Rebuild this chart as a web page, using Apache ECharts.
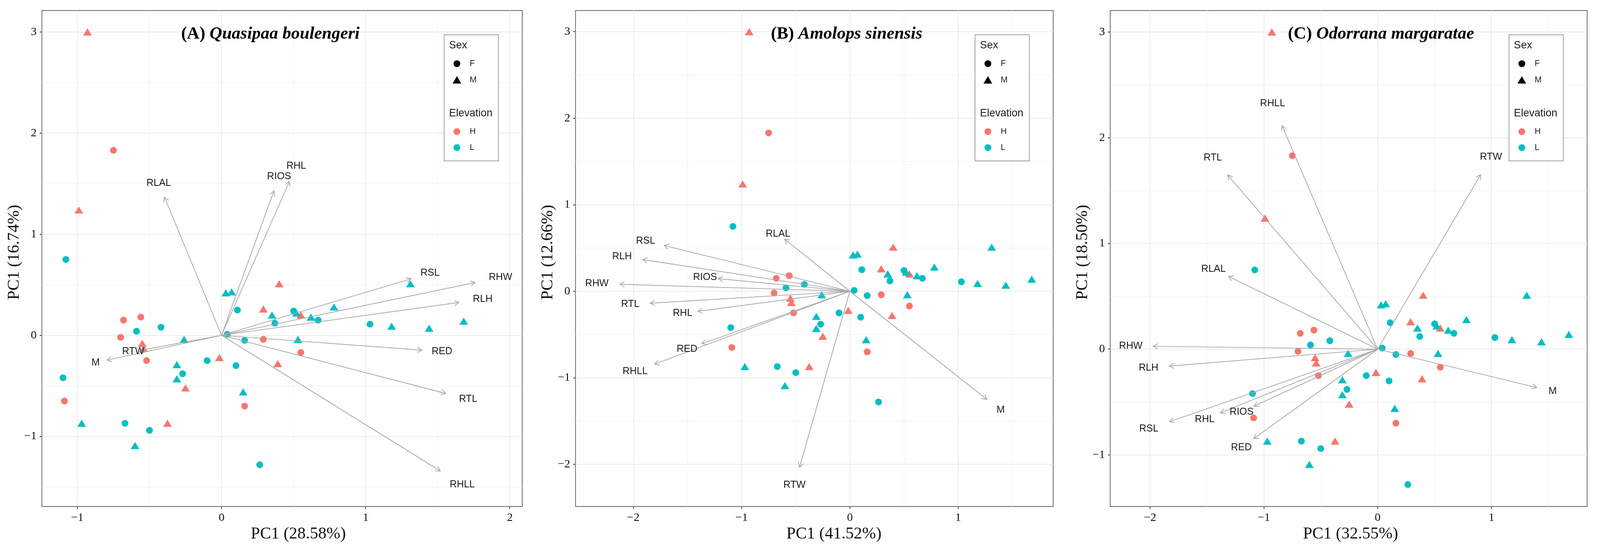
<!DOCTYPE html>
<html lang="en">
<head>
  <meta charset="UTF-8">
  <title>PCA biplots</title>
  <script src="https://cdn.jsdelivr.net/npm/echarts@6/dist/echarts.min.js"></script>
  <style>
    html, body { margin: 0; padding: 0; background: #fff; overflow: hidden; }
    #chart { width: 100vw; height: 100vh; }
  </style>
</head>
<body>
  <div id="chart"></div>
  <script>
    // PC scores, split by elevation (H/L) and sex (F/M)
    const scoresHF = [[-0.75, 1.83], [-0.56, 0.18], [-0.68, 0.15], [-0.70, -0.02], [0.29, -0.04],
      [-0.52, -0.25], [-1.09, -0.65], [0.16, -0.70], [0.55, -0.17]];
    const scoresHM = [[-0.93, 3.0], [-0.99, 1.24], [0.29, 0.26], [0.40, 0.51], [-0.55, -0.08],
      [-0.54, -0.13], [-0.015, -0.22], [0.39, -0.28], [-0.25, -0.52], [-0.375, -0.87], [0.55, 0.20]];
    const scoresLF = [[-1.08, 0.75], [0.11, 0.25], [0.37, 0.12], [-0.59, 0.04], [-0.42, 0.08],
      [0.04, 0.01], [0.16, -0.05], [-0.10, -0.25], [0.10, -0.30], [-0.27, -0.38], [-1.10, -0.42],
      [-0.67, -0.87], [-0.50, -0.94], [0.50, 0.24], [0.67, 0.15], [1.03, 0.11], [0.265, -1.28]];
    const scoresLM = [[0.03, 0.42], [0.07, 0.43], [0.35, 0.20], [-0.26, -0.04], [-0.31, -0.29],
      [-0.31, -0.43], [0.15, -0.56], [-0.97, -0.87], [-0.60, -1.09], [0.52, 0.22], [0.62, 0.18],
      [0.78, 0.28], [1.31, 0.51], [1.18, 0.09], [1.44, 0.07], [1.68, 0.14], [0.53, -0.04]];

    // variable loadings (arrow tips), same variable order in every panel
    const varNames = ['RLAL', 'RIOS', 'RHL', 'RSL', 'RHW', 'RLH', 'RED', 'RTL', 'RHLL', 'RTW', 'M'];
    const loadingsA = [[-0.396, 1.367], [0.363, 1.428], [0.471, 1.522], [1.315, 0.559], [1.759, 0.522],
      [1.647, 0.325], [1.39, -0.147], [1.555, -0.575], [1.518, -1.342], [-0.557, -0.147], [-0.794, -0.246]];
    const loadingsB = [[-0.603, 0.602], [-1.216, 0.146], [-1.404, -0.232], [-1.715, 0.529], [-2.124, 0.081],
      [-1.913, 0.366], [-1.367, -0.606], [-1.844, -0.138], [-1.803, -0.842], [-0.465, -2.034], [1.266, -1.249]];
    const loadingsC = [[-1.311, 0.689], [-1.087, -0.539], [-1.382, -0.603], [-1.828, -0.686], [-1.972, 0.027],
      [-1.83, -0.16], [-1.089, -0.847], [-1.317, 1.647], [-0.839, 2.113], [0.905, 1.651], [1.398, -0.363]];

    const panelTags = ['(A) ', '(B) ', '(C) '];
    const speciesNames = ['Quasipaa boulengeri', 'Amolops sinensis', 'Odorrana margaratae'];
    const xAxisNames = ['PC1 (28.58%)', 'PC1 (41.52%)', 'PC1 (32.55%)'];
    const yAxisNames = ['PC1 (16.74%)', 'PC1 (12.66%)', 'PC1 (18.50%)'];
    const xRanges = [[-1.246, 2.086], [-2.534, 1.878], [-2.35, 1.841]];
    const yRanges = [[-1.693, 3.212], [-2.487, 3.244], [-1.488, 3.203]];
    const xTicks = [[-1, 0, 1, 2], [-2, -1, 0, 1], [-2, -1, 0, 1]];
    const yTicks = [[-1, 0, 1, 2, 3], [-2, -1, 0, 1, 2, 3], [-1, 0, 1, 2, 3]];
    const loadings = [loadingsA, loadingsB, loadingsC];

    const chart = echarts.init(document.getElementById('chart'));

    // layout designed for a 4237 x 1411 canvas, scaled to the actual size
    const sx = chart.getWidth() / 4237, sy = chart.getHeight() / 1411;
    const s = Math.min(sx, sy);
    const X = v => v * sx, Y = v => v * sy, S = v => v * s;

    const gridLeft = [111, 1524, 2940];
    const gridWidth = [1272, 1265, 1263];
    const gridTop = 27, gridHeight = 1270;
    const titleX = [716, 2242, 3657];
    const xNameShift = [43, 52, 5];
    const xNameGap = [47, 50, 50];
    const yNameGap = [42, 33, 41];
    const labelScale = 1.1;

    const RED = '#F8766D', TEAL = '#00BFC4', ARROW = '#A8A8A8';
    const SERIF = 'Liberation Serif', SANS = 'Liberation Sans';

    const minus = v => String(v).replace('-', '\u2212');

    function arrowRenderer() {
      return function (params, api) {
        const o = api.coord([0, 0]);
        const p = api.coord([api.value(0), api.value(1)]);
        const l = api.coord([api.value(0) * labelScale, api.value(1) * labelScale]);
        const ang = Math.atan2(p[1] - o[1], p[0] - o[0]);
        const head = S(14), spread = Math.PI / 6;
        const h1 = [p[0] - head * Math.cos(ang - spread), p[1] - head * Math.sin(ang - spread)];
        const h2 = [p[0] - head * Math.cos(ang + spread), p[1] - head * Math.sin(ang + spread)];
        return {
          type: 'group',
          children: [
            { type: 'line', shape: { x1: o[0], y1: o[1], x2: p[0], y2: p[1] },
              style: { stroke: ARROW, lineWidth: S(2) } },
            { type: 'polyline', shape: { points: [h1, p, h2] },
              style: { stroke: ARROW, lineWidth: S(2), fill: null } },
            { type: 'text', x: l[0], y: l[1], z2: 10,
              style: { text: varNames[params.dataIndex], fill: '#1a1a1a', fontFamily: SANS,
                fontSize: S(26), align: 'center', verticalAlign: 'middle' } }
          ]
        };
      };
    }

    function legendGraphics(right) {
      const left = right - 144;
      const sxm = X(left + 34), tx = X(left + 68);
      const lab = (t, y) => ({ type: 'text', x: tx, y: Y(y), z: 21,
        style: { text: t, fill: '#1a1a1a', fontFamily: SANS, fontSize: S(22), verticalAlign: 'middle' } });
      const head = (t, y) => ({ type: 'text', x: X(left + 13), y: Y(y), z: 21,
        style: { text: t, fill: '#1a1a1a', fontFamily: SANS, fontSize: S(28), verticalAlign: 'middle' } });
      const dot = (y, c) => ({ type: 'circle', shape: { cx: sxm, cy: Y(y), r: S(9) }, style: { fill: c }, z: 21 });
      return [
        { type: 'rect', shape: { x: X(left), y: Y(89), width: X(144), height: Y(323) },
          style: { fill: '#fff', stroke: '#a0a0a0', lineWidth: S(2) }, z: 20 },
        head('Sex', 117),
        dot(163, '#000'),
        lab('F', 163),
        { type: 'polygon', shape: { points: [[sxm, Y(195)], [sxm + S(11.5), Y(214)], [sxm - S(11.5), Y(214)]] },
          style: { fill: '#000' }, z: 21 },
        lab('M', 205),
        head('Elevation', 291),
        dot(337, RED),
        lab('H', 337),
        dot(378, TEAL),
        lab('L', 378)
      ];
    }

    const grids = [], xAxes = [], yAxes = [], series = [], graphics = [];
    const tickFont = { fontFamily: SERIF, fontSize: S(31), color: '#111' };
    const nameFont = { fontFamily: SERIF, fontSize: S(44), color: '#111' };

    for (let i = 0; i < 3; i++) {
      grids.push({
        left: X(gridLeft[i]), top: Y(gridTop), width: X(gridWidth[i]), height: Y(gridHeight),
        show: true, borderColor: '#666', borderWidth: S(2), backgroundColor: '#fff',
        containLabel: false, outerBoundsMode: 'none'
      });
      const common = {
        gridIndex: i, type: 'value', minInterval: 1, maxInterval: 1,
        axisLine: { show: false, onZero: false },
        axisTick: { show: true, length: S(6), lineStyle: { color: '#333', width: S(2) } },
        splitLine: { show: true, lineStyle: { color: '#EBEBEB', width: S(2) } },
        minorTick: { show: false, splitNumber: 2 },
        minorSplitLine: { show: true, lineStyle: { color: '#F3F3F3', width: S(1.5) } },
        nameLocation: 'middle'
      };
      xAxes.push(Object.assign({}, common, {
        min: xRanges[i][0], max: xRanges[i][1],
        axisTick: Object.assign({}, common.axisTick, { customValues: xTicks[i] }),
        axisLabel: Object.assign({ customValues: xTicks[i], margin: S(15), formatter: minus }, tickFont),
        name: xAxisNames[i], nameGap: S(xNameGap[i]),
        nameTextStyle: Object.assign({ padding: [0, 0, 0, X(2 * xNameShift[i])] }, nameFont)
      }));
      yAxes.push(Object.assign({}, common, {
        min: yRanges[i][0], max: yRanges[i][1],
        axisTick: Object.assign({}, common.axisTick, { customValues: yTicks[i] }),
        axisLabel: Object.assign({ customValues: yTicks[i], margin: S(14), formatter: minus }, tickFont),
        name: yAxisNames[i], nameGap: S(yNameGap[i]),
        nameTextStyle: Object.assign({ padding: [0, 0, 0, Y(32)] }, nameFont)
      }));

      const groups = [
        [scoresHF, RED, 'circle'], [scoresHM, RED, 'triangle'],
        [scoresLF, TEAL, 'circle'], [scoresLM, TEAL, 'triangle']
      ];
      groups.forEach(([data, color, shape]) => {
        series.push({
          type: 'scatter', xAxisIndex: i, yAxisIndex: i, data: data,
          symbol: shape, symbolSize: shape === 'circle' ? S(18) : [S(23), S(19)],
          itemStyle: { color: color, opacity: 1 }, z: 2, silent: true
        });
      });
      series.push({
        type: 'custom', xAxisIndex: i, yAxisIndex: i, data: loadings[i],
        renderItem: arrowRenderer(), z: 3, silent: true, clip: false
      });

      graphics.push({
        type: 'text', x: X(titleX[i]), y: Y(88), z: 30,
        style: {
          text: '{a|' + panelTags[i] + '}{b|' + speciesNames[i] + '}',
          align: 'center', verticalAlign: 'middle',
          rich: {
            a: { fontFamily: SERIF, fontWeight: 'bold', fontSize: S(46), fill: '#000' },
            b: { fontFamily: SERIF, fontWeight: 'bold', fontStyle: 'italic', fontSize: S(46), fill: '#000' }
          }
        }
      });
      graphics.push(...legendGraphics(gridLeft[i] + gridWidth[i] - 63));
    }

    chart.setOption({
      animation: false,
      backgroundColor: '#fff',
      grid: grids,
      xAxis: xAxes,
      yAxis: yAxes,
      series: series,
      graphic: graphics
    });
  </script>
</body>
</html>
